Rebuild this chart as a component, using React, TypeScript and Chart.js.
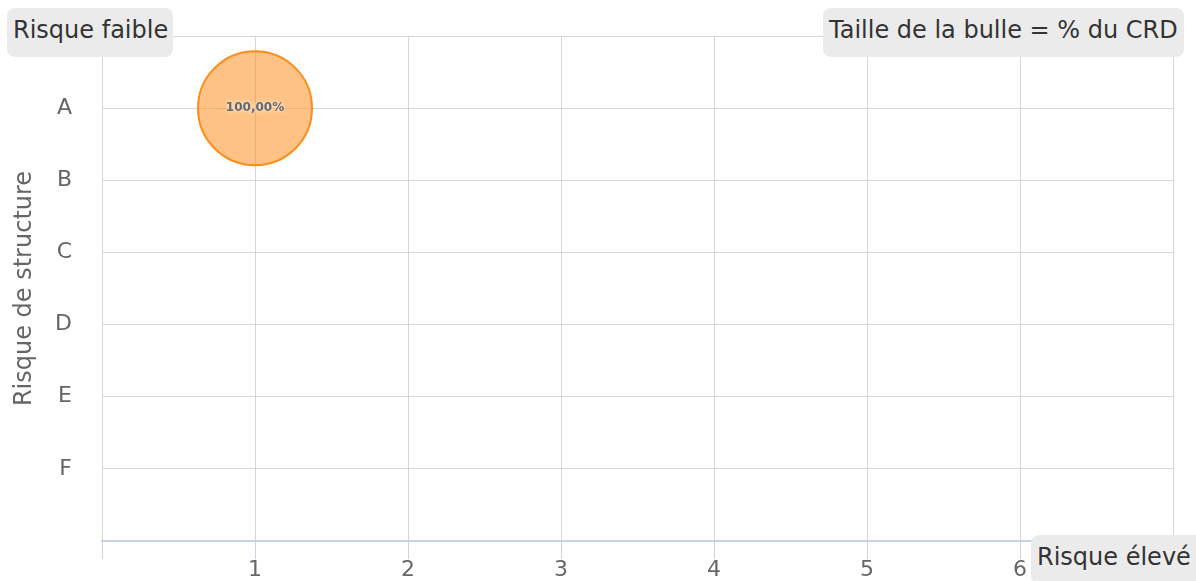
import React, { useEffect, useRef } from "react";
import { Chart, registerables } from "chart.js";

Chart.register(...registerables);

const yCategories = ["A", "B", "C", "D", "E", "F"];
const xTickLabels = ["", "1", "2", "3", "4", "5", "6", ""];
const bubbleX = [1];
const bubbleY = ["A"];
const bubblePct = [100];
const bubbleLabels = ["100,00%"];

const FONT = "'DejaVu Sans', Verdana, sans-serif";

const labelPlugin = {
  id: "bubbleLabels",
  afterDatasetsDraw(chart: any) {
    const ctx = chart.ctx;
    const meta = chart.getDatasetMeta(0);
    ctx.save();
    ctx.font = `bold 12px ${FONT}`;
    ctx.textAlign = "center";
    ctx.textBaseline = "middle";
    ctx.fillStyle = "#626870";
    ctx.shadowColor = "rgba(255,255,255,0.95)";
    ctx.shadowBlur = 4;
    meta.data.forEach((el: any, i: number) => {
      ctx.fillText(bubbleLabels[i], el.x, el.y);
    });
    ctx.restore();
  },
};

const boxStyle: React.CSSProperties = {
  position: "absolute",
  height: 49,
  lineHeight: "45px",
  background: "#ebebeb",
  borderRadius: 8,
  fontFamily: FONT,
  fontSize: 24,
  color: "#333",
  whiteSpace: "nowrap",
  boxSizing: "border-box",
  paddingLeft: 6,
  zIndex: 2,
};

export default function App() {
  const ref = useRef<HTMLCanvasElement | null>(null);
  useEffect(() => {
    if (!ref.current) return;
    Chart.defaults.font.family = FONT;
    const chart = new Chart(ref.current, {
      type: "bubble",
      data: {
        datasets: [
          {
            label: "CRD",
            data: bubbleX.map((x, i) => ({
              x,
              y: yCategories.indexOf(bubbleY[i]) + 1,
              r: Math.sqrt(bubblePct[i] / 100) * 57,
            })),
            backgroundColor: "rgba(255,140,25,0.53)",
            borderColor: "rgb(255,140,25)",
            borderWidth: 2,
          },
        ],
      },
      options: {
        animation: false,
        responsive: true,
        maintainAspectRatio: false,
        layout: { autoPadding: false, padding: { left: 0, right: 23, top: 36, bottom: 0 } },
        plugins: { legend: { display: false }, tooltip: { enabled: false } },
        scales: {
          x: {
            type: "linear",
            min: 0,
            max: 7,
            afterFit: (scale: any) => {
              scale.height = 40;
              scale.paddingLeft = 0;
              scale.paddingRight = 0;
            },
            ticks: {
              stepSize: 1,
              padding: 0,
              color: "#666",
              font: { size: 22, lineHeight: 1 },
              callback: (v: any) => xTickLabels[Number(v)] ?? "",
            },
            grid: {
              color: "#d6d6d6",
              lineWidth: 1,
              tickColor: "#c8d4e3",
              tickLength: 18,
            },
            border: { color: "#c8d4e3", width: 2 },
          },
          y: {
            type: "linear",
            min: 0,
            max: 7,
            reverse: true,
            afterFit: (scale: any) => {
              scale.width = 102;
              scale.paddingTop = 0;
              scale.paddingBottom = 0;
            },
            ticks: {
              stepSize: 1,
              padding: 30,
              color: "#666",
              font: { size: 22 },
              callback: (v: any) => yCategories[Number(v) - 1] ?? "",
            },
            grid: { color: "#d6d6d6", lineWidth: 1, drawTicks: false },
            border: { display: false },
            title: {
              display: true,
              text: "Risque de structure",
              color: "#666",
              font: { size: 24 },
              padding: { top: 10, bottom: 0 },
            },
          },
        },
      },
      plugins: [labelPlugin],
    });
    return () => chart.destroy();
  }, []);

  return (
    <div style={{ position: "fixed", left: 0, top: 0, width: 1196, height: 581, background: "#fff" }}>
      <canvas ref={ref} />
      <div style={{ ...boxStyle, left: 7, top: 8, width: 166 }}>Risque faible</div>
      <div style={{ ...boxStyle, left: 823, top: 8, width: 361 }}>Taille de la bulle = % du CRD</div>
      <div style={{ ...boxStyle, left: 1031, top: 535, width: 175 }}>Risque élevé</div>
    </div>
  );
}
